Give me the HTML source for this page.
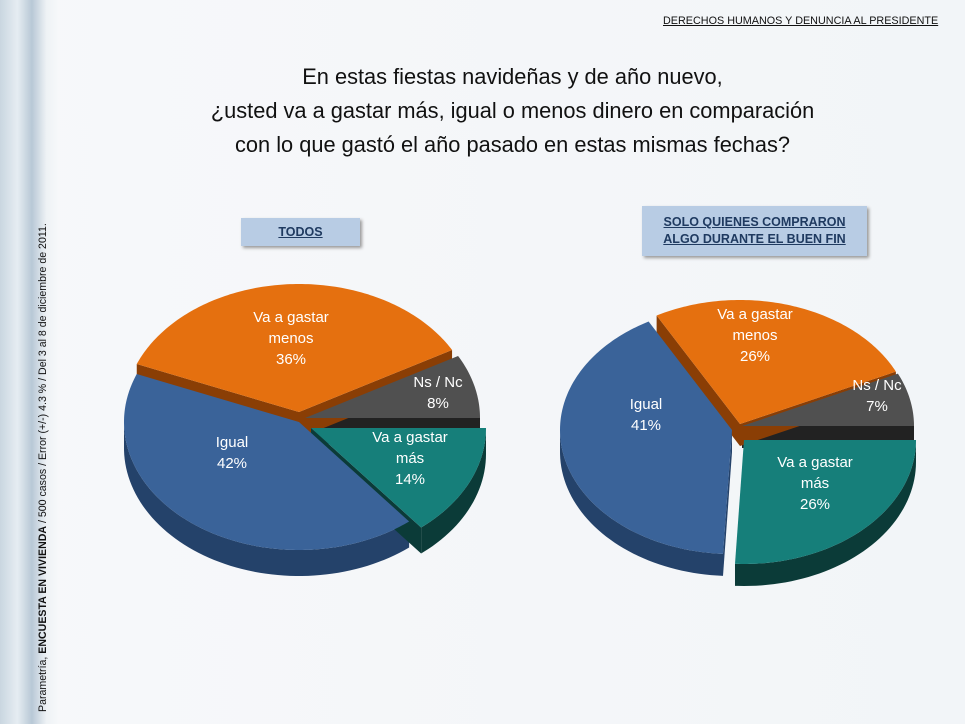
<!DOCTYPE html>
<html><head><meta charset="utf-8"><style>
body{margin:0;width:965px;height:724px;overflow:hidden;background:#f4f6f8;font-family:"Liberation Sans",sans-serif;}
#wrap{position:relative;width:965px;height:724px;background:linear-gradient(90deg,#f7f8fa,#f2f5f8);}
.strip{position:absolute;left:0;top:0;width:58px;height:724px;background:linear-gradient(90deg,#c9d6e0 0%,#e6edf2 30%,#b8c8d6 55%,#eef2f5 80%,#f6f8fa 100%);}
.title{position:absolute;left:100px;width:825px;top:60px;text-align:center;font-size:21.8px;line-height:34px;color:#111;}
.hdr{position:absolute;left:663px;top:15px;font-size:10.8px;color:#111;text-decoration:underline;}
.box{position:absolute;background:#b8cce4;color:#1f3a60;font-weight:bold;font-size:12.5px;text-align:center;text-decoration:underline;box-shadow:2px 2px 3px #999;}
.vt{position:absolute;left:37px;top:712px;transform-origin:0 0;transform:rotate(-90deg);font-size:10.6px;white-space:nowrap;color:#111;}
</style></head><body><div id="wrap">
<div class="strip"></div>
<div class="hdr">DERECHOS HUMANOS Y DENUNCIA AL PRESIDENTE</div>
<div class="title">En estas fiestas navideñas y de año nuevo,<br>¿usted va a gastar más, igual o menos dinero en comparación<br>con lo que gastó el año pasado en estas mismas fechas?</div>
<div class="box" style="left:241px;top:218px;width:119px;height:28px;line-height:28px;">TODOS</div>
<div class="box" style="left:642px;top:206px;width:225px;height:50px;line-height:17px;padding-top:8px;box-sizing:border-box;">SOLO QUIENES COMPRARON<br>ALGO DURANTE EL BUEN FIN</div>
<div class="vt">Parametría, <b>ENCUESTA EN VIVIENDA</b> / 500 casos / Error (+/-) 4.3 % / Del 3 al 8 de diciembre de 2011.</div>
<svg id="s" width="965" height="724" style="position:absolute;left:0;top:0" font-family="Liberation Sans, sans-serif"></svg>
</div>
<script>
var s=document.getElementById('s'),NS='http://www.w3.org/2000/svg';
function add(tag,a,txt){var e=document.createElementNS(NS,tag);for(var k in a)e.setAttribute(k,a[k]);if(txt)e.textContent=txt;s.appendChild(e);return e;}
function pie(cx,cy,rx,ry,d,sl){
 function P(x,y,t){return [x+rx*Math.cos(t*Math.PI/180),y-ry*Math.sin(t*Math.PI/180)];}
 sl.forEach(function(q){var x=cx+q.dx,y=cy+q.dy;
  [[q.a1,1],[q.a2,-1]].forEach(function(e){var t=e[0],c=Math.cos(t*Math.PI/180)*e[1];
   if(c>0.01){var p1=P(x,y,t);add('path',{d:"M"+x+","+y+"L"+p1[0]+","+p1[1]+"L"+p1[0]+","+(p1[1]+d)+"L"+x+","+(y+d)+"Z",fill:q.side});}});
  var a=Math.max(q.a1,180),b=Math.min(q.a2,360);
  if(b>a){var p="";for(var t=a;t<=b;t+=2){var p1=P(x,y,t);p+=(p?"L":"M")+p1[0]+","+p1[1];}
   var pb=P(x,y,b);p+="L"+pb[0]+","+pb[1];
   for(var t=b;t>=a;t-=2){var p1=P(x,y,t);p+="L"+p1[0]+","+(p1[1]+d);}
   var pa=P(x,y,a);p+="L"+pa[0]+","+(pa[1]+d)+"Z";add('path',{d:p,fill:q.side});}
 });
 sl.forEach(function(q){var x=cx+q.dx,y=cy+q.dy,p="M"+x+","+y;
  for(var t=q.a1;t<=q.a2;t+=1){var p1=P(x,y,t);p+="L"+p1[0]+","+p1[1];}
  var pe=P(x,y,q.a2);p+="L"+pe[0]+","+pe[1]+"Z";add('path',{d:p,fill:q.c});});
}
var O='#e5700f',OS='#8a3e05',B='#3a6399',BS='#24426a',T='#167f7a',TS='#0b3b38',G='#505050',GS='#222';
pie(303,420,175,128,26,[
 {a1:0,a2:29,c:G,side:GS,dx:2,dy:-2},
 {a1:29,a2:158,c:O,side:OS,dx:-4,dy:-8},
 {a1:158,a2:309,c:B,side:BS,dx:-4,dy:2},
 {a1:309,a2:360,c:T,side:TS,dx:8,dy:8}]);
pie(740,430,172,124,22,[
 {a1:0,a2:25,c:G,side:GS,dx:2,dy:-4},
 {a1:25,a2:119,c:O,side:OS,dx:0,dy:-6},
 {a1:119,a2:267,c:B,side:BS,dx:-8,dy:0},
 {a1:267,a2:360,c:T,side:TS,dx:4,dy:10}]);
function lab(x,y,lines){lines.forEach(function(l,i){add('text',{x:x,y:y+i*21,'text-anchor':'middle','font-size':'15',fill:'#fff'},l);});}
lab(291,322,["Va a gastar","menos","36%"]);
lab(438,387,["Ns / Nc","8%"]);
lab(232,447,["Igual","42%"]);
lab(410,442,["Va a gastar","más","14%"]);
lab(755,319,["Va a gastar","menos","26%"]);
lab(877,390,["Ns / Nc","7%"]);
lab(646,409,["Igual","41%"]);
lab(815,467,["Va a gastar","más","26%"]);
</script>
</body></html>
